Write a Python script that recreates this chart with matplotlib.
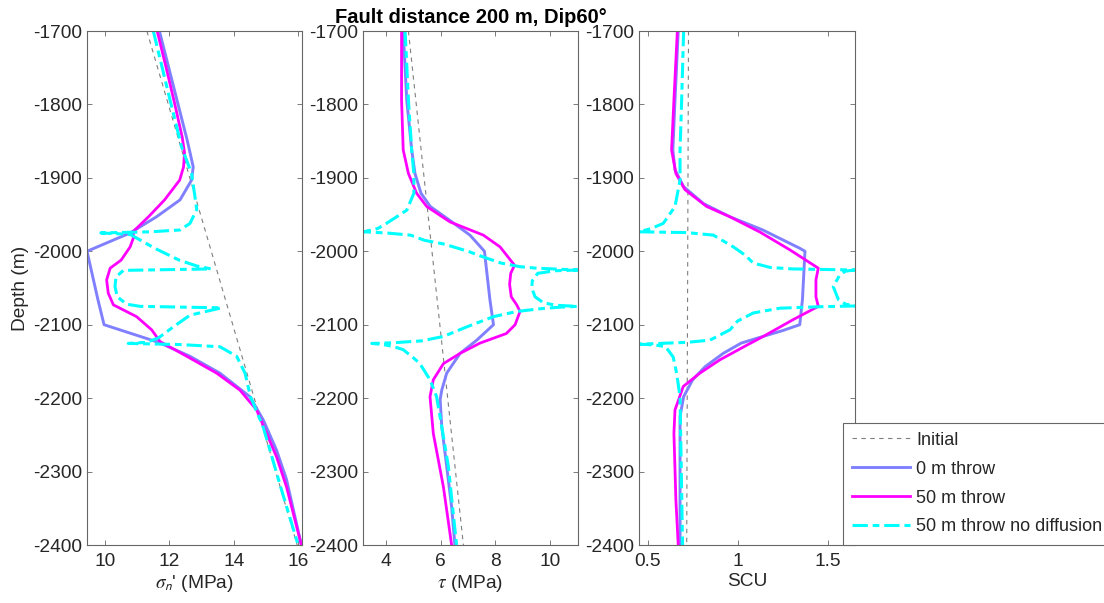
import matplotlib
matplotlib.use('Agg')
import matplotlib.pyplot as plt

plt.rcParams['font.family'] = ['Liberation Sans', 'DejaVu Sans']
plt.rcParams['axes.unicode_minus'] = False
plt.rcParams['mathtext.fontset'] = 'stix'

# ---- data ----
depth_ticks = [-1700, -1800, -1900, -2000, -2100, -2200, -2300, -2400]

# panel 1: effective normal stress (MPa)
init_sn_depth = [-1700, -2400]
init_sn = [11.30, 15.97]

t0_sn_depth = [-1700, -1750, -1800, -1850, -1885, -1903, -1930, -1953, -1975, -2000,
               -2066, -2100, -2124, -2143, -2166, -2198, -2230, -2271, -2311, -2400]
t0_sn = [11.69, 11.98, 12.27, 12.56, 12.74, 12.69, 12.33, 11.60, 10.78, 9.44,
         9.78, 9.97, 11.66, 12.64, 13.57, 14.50, 14.92, 15.33, 15.64, 16.10]

t50_sn_depth = [-1700, -1750, -1800, -1845, -1866, -1885, -1903, -1930, -1953, -1973,
                -1982, -1994, -2012, -2023, -2039, -2057, -2073, -2089, -2107, -2123,
                -2143, -2166, -2189, -2216, -2248, -2280, -2321, -2400]
t50_sn = [11.62, 11.90, 12.17, 12.40, 12.47, 12.44, 12.32, 11.85, 11.35, 10.88,
          10.88, 10.78, 10.50, 10.16, 10.05, 10.10, 10.26, 10.98, 11.45, 11.71,
          12.54, 13.47, 14.19, 14.71, 15.02, 15.33, 15.64, 16.10]

nd_sn_depth = [-1700, -1794, -1858, -1894, -1943, -1962, -1971, -1973.5, -1975,
               -1977, -1996, -2012, -2020, -2024, -2026, -2035, -2048, -2062, -2072,
               -2075, -2077, -2087, -2103, -2118, -2124, -2125.5, -2127, -2130, -2143,
               -2166, -2198, -2240, -2320, -2400]
nd_sn = [11.50, 12.02, 12.38, 12.69, 12.85, 12.64, 12.33, 11.40, 9.87,
         10.78, 11.55, 12.30, 12.85, 13.30, 10.57, 10.34, 10.31, 10.38, 10.67,
         11.09, 13.62, 12.64, 12.12, 11.66, 11.29, 10.72, 12.33, 13.57, 14.09,
         14.35, 14.52, 14.92, 15.45, 16.00]

# panel 2: shear stress (MPa)
init_tau_depth = [-1700, -2400]
init_tau = [4.82, 6.83]

t0_tau_depth = [-1700, -1794, -1862, -1894, -1921, -1939, -1957, -1978, -2000, -2066,
                -2100, -2121, -2139, -2166, -2189, -2202, -2239, -2293, -2348, -2400]
t0_tau = [4.63, 4.76, 4.94, 5.06, 5.28, 5.62, 6.30, 7.07, 7.60, 7.80,
          7.93, 7.32, 6.71, 6.22, 6.04, 5.98, 6.04, 6.22, 6.40, 6.52]

t50_tau_depth = [-1700, -1794, -1862, -1894, -1921, -1939, -1960, -1978, -1994, -2019,
                 -2030, -2045, -2062, -2073, -2082, -2100, -2112, -2125, -2139, -2153,
                 -2175, -2198, -2248, -2321, -2400]
t50_tau = [4.57, 4.57, 4.63, 4.82, 5.12, 5.49, 6.34, 7.56, 8.17, 8.70,
           8.56, 8.52, 8.58, 8.78, 8.90, 8.72, 8.40, 7.44, 6.71, 6.10,
           5.73, 5.61, 5.73, 6.10, 6.40]

nd_tau_depth = [-1700, -1794, -1862, -1894, -1921, -1944, -1962, -1969, -1973.5, -1975,
                -1978, -1985, -1990, -2000, -2007, -2016, -2021, -2023, -2024.5, -2025.5,
                -2026.5, -2030, -2040, -2050, -2062, -2070, -2073.5, -2075, -2076, -2078,
                -2082, -2089, -2103, -2116, -2122, -2124.5, -2125.5, -2127, -2130, -2134,
                -2145, -2153, -2175, -2198, -2239, -2293, -2400]
nd_tau = [4.70, 4.82, 4.94, 5.02, 5.02, 4.76, 4.02, 3.70, 3.17, 4.00,
          4.90, 5.40, 6.10, 7.00, 7.50, 8.20, 8.90, 9.50, 10.40, 11.00,
          10.20, 9.55, 9.35, 9.33, 9.45, 9.75, 10.20, 11.00, 10.40, 9.70,
          8.78, 7.93, 6.95, 6.10, 5.30, 4.30, 3.48, 3.90, 4.30, 4.63,
          5.00, 5.24, 5.61, 5.85, 6.04, 6.28, 6.58]

# panel 3: shear capacity utilisation
init_scu_depth = [-1700, -2400]
init_scu = [0.727, 0.717]

t0_scu_depth = [-1700, -1794, -1862, -1889, -1912, -1935, -1953, -1971, -1996, -2000,
                -2066, -2100, -2108, -2116, -2125, -2139, -2157, -2175, -2198, -2225,
                -2293, -2400]
t0_scu = [0.670, 0.652, 0.640, 0.652, 0.700, 0.810, 0.957, 1.140, 1.346, 1.374,
          1.360, 1.345, 1.250, 1.140, 1.020, 0.920, 0.820, 0.750, 0.700, 0.680,
          0.680, 0.680]

t50_scu_depth = [-1700, -1794, -1862, -1894, -1916, -1939, -1953, -1974, -1998, -2023,
                 -2039, -2062, -2075, -2093, -2116, -2128, -2148, -2166, -2184, -2216,
                 -2248, -2339, -2400]
t50_scu = [0.665, 0.646, 0.633, 0.657, 0.707, 0.828, 0.957, 1.125, 1.290, 1.448,
           1.435, 1.435, 1.448, 1.309, 1.142, 1.050, 0.900, 0.790, 0.698, 0.652,
           0.646, 0.657, 0.670]

nd_scu_depth = [-1700, -1794, -1862, -1903, -1939, -1962, -1969, -1973.5, -1974.5, -1978,
                -1994, -2005, -2016, -2022, -2024, -2025.5, -2027, -2032, -2048, -2066,
                -2072, -2074.5, -2075.5, -2077.5, -2084, -2095, -2107, -2121, -2124, -2126.5,
                -2127.5, -2130, -2144, -2166, -2198, -2400]
nd_scu = [0.700, 0.689, 0.680, 0.680, 0.652, 0.587, 0.520, 0.452, 0.717, 0.865,
          0.976, 1.040, 1.087, 1.180, 1.300, 1.650, 1.600, 1.568, 1.531, 1.560,
          1.600, 1.650, 1.457, 1.235, 1.087, 1.000, 0.957, 0.846, 0.720, 0.452,
          0.540, 0.600, 0.642, 0.661, 0.680, 0.694]

sn_ticks = [10, 12, 14, 16]
tau_ticks = [4, 6, 8, 10]
scu_ticks = [0.5, 1, 1.5]
scu_tick_labels = ['0.5', '1', '1.5']

series_labels = ['Initial', '0 m throw', '50 m throw', '50 m throw no diffusion']

# ---- figure ----
W, H = 1104, 603
fig = plt.figure(figsize=(W / 100, H / 100), dpi=100)

edge = '#666666'
txt = '#262626'
dashdot = (0, (5, 1.6, 2.2, 1.6))

panels = [
    (87, 215, (9.44, 16.12), sn_ticks, [str(t) for t in sn_ticks], r"$\sigma_\mathsf{n}$' (MPa)",
     [(init_sn, init_sn_depth), (t0_sn, t0_sn_depth), (t50_sn, t50_sn_depth), (nd_sn, nd_sn_depth)]),
    (363, 215, (3.16, 11.02), tau_ticks, [str(t) for t in tau_ticks], r"$\tau$ (MPa)",
     [(init_tau, init_tau_depth), (t0_tau, t0_tau_depth), (t50_tau, t50_tau_depth), (nd_tau, nd_tau_depth)]),
    (639, 216, (0.452, 1.652), scu_ticks, scu_tick_labels, 'SCU',
     [(init_scu, init_scu_depth), (t0_scu, t0_scu_depth), (t50_scu, t50_scu_depth), (nd_scu, nd_scu_depth)]),
]

styles = [
    dict(color='#7f7f7f', lw=0.8, ls=(0, (4, 4))),
    dict(color='#8080ff', lw=2.1, ls='-'),
    dict(color='#ff00ff', lw=2.0, ls='-'),
    dict(color='#00ffff', lw=2.2, ls=dashdot),
]

axes = []
for left, width, xlim, ticks, ticklabels, xlabel, data in panels:
    ax = fig.add_axes([left / W, (H - 545) / H, width / W, 514 / H])
    handles = []
    for (x, y), st, lab in zip(data, styles, series_labels):
        h, = ax.plot(x, y, label=lab, **st)
        handles.append(h)
    ax.set_xlim(*xlim)
    ax.set_ylim(-2400, -1700)
    ax.set_yticks(depth_ticks)
    ax.set_xticks(ticks)
    ax.set_xticklabels(ticklabels)
    ax.tick_params(direction='in', length=3.6, width=0.6, color=edge, labelcolor=txt,
                   top=True, right=True, labelsize=13.8)
    ax.tick_params(axis='x', pad=6)
    ax.tick_params(axis='y', pad=3.5)
    for s in ax.spines.values():
        s.set_color(edge)
        s.set_linewidth(0.8)
    ax.set_xlabel(xlabel, fontsize=13.8, color=txt, labelpad=2)
    axes.append(ax)

axes[0].set_ylabel('Depth (m)', fontsize=13.8, color=txt, labelpad=3)
axes[1].set_title('Fault distance 200 m, Dip60°', fontsize=14.5, fontweight='bold',
                  color='black', pad=6)

leg = fig.legend(handles=handles, loc='upper left', bbox_to_anchor=(843 / W, 1 - 422.7 / H),
                 borderaxespad=0, fontsize=13, frameon=True, fancybox=False,
                 framealpha=1, edgecolor=edge, handlelength=3.2, handletextpad=0.35,
                 labelspacing=0.66, borderpad=0.5)
leg.get_frame().set_linewidth(0.8)
for t in leg.get_texts():
    t.set_color(txt)

fig.savefig('out.png', dpi=100)
